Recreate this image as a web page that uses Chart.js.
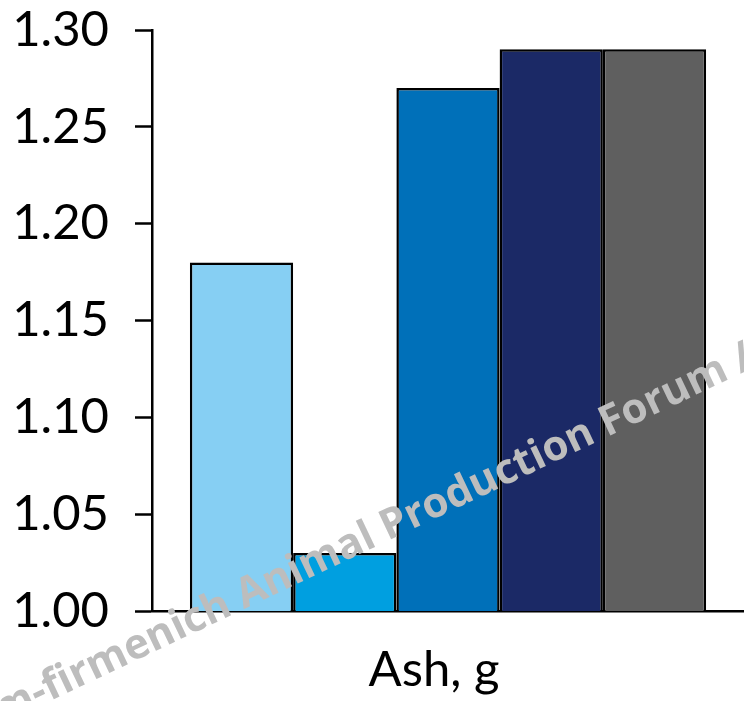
<!DOCTYPE html>
<html>
<head>
<meta charset="utf-8">
<script src="https://cdn.jsdelivr.net/npm/chart.js@4/dist/chart.umd.min.js"></script>
<style>
  html, body { margin: 0; padding: 0; background: #ffffff; }
  #wrap { width: 744px; height: 701px; position: relative; }
</style>
</head>
<body>
<div id="wrap"><canvas id="c"></canvas></div>
<script>
// Category shown under the bars
const categories = ['Ash, g'];
// One bar per group, values in grams
const seriesNames = ['Group 1', 'Group 2', 'Group 3', 'Group 4', 'Group 5'];
const seriesValues = [1.18, 1.03, 1.27, 1.29, 1.29];
const seriesColors = ['#86CFF3', '#009FE0', '#0070B9', '#1B2966', '#5F5F5F'];
// Value axis range and step
const yMin = 1.00;
const yMax = 1.30;
const yStep = 0.05;
const watermarkLead = 'dsm-';
const watermarkBody = 'firmenich Animal Production Forum /';

const FONT = 'Lato, "DejaVu Sans", sans-serif';

// Rotated grey caption drawn on top of the plot.
// Its baseline runs from the start of "firmenich" to the start of "Forum".
const watermark = {
  id: 'watermark',
  afterDraw(chart) {
    const ctx = chart.ctx;
    const start = { x: 50, y: 701 };
    const forumStart = { x: 607, y: 437 };
    const dx = forumStart.x - start.x;
    const dy = start.y - forumStart.y;
    const span = Math.hypot(dx, dy);
    const angle = Math.atan2(dy, dx);
    const prefix = watermarkBody.slice(0, watermarkBody.indexOf('Forum'));
    ctx.save();
    ctx.font = 'bold 40px "Open Sans", sans-serif';
    const size = 40 * span / ctx.measureText(prefix).width;
    ctx.font = 'bold ' + size.toFixed(2) + 'px "Open Sans", sans-serif';
    ctx.translate(start.x, start.y);
    ctx.rotate(-angle);
    ctx.fillStyle = '#BDBDBD';
    ctx.textBaseline = 'alphabetic';
    ctx.textAlign = 'right';
    ctx.fillText(watermarkLead, 0, 0);
    ctx.textAlign = 'left';
    ctx.fillText(watermarkBody, 0, 0);
    ctx.restore();
  }
};

const datasets = seriesValues.map((v, i) => ({
  label: seriesNames[i],
  data: [v],
  backgroundColor: seriesColors[i],
  borderColor: '#000000',
  borderWidth: 2.5,
  borderSkipped: 'bottom',
  categoryPercentage: 0.872,
  barPercentage: 1.0
}));

new Chart(document.getElementById('c'), {
  type: 'bar',
  data: { labels: categories, datasets },
  options: {
    responsive: true,
    maintainAspectRatio: false,
    animation: false,
    layout: { padding: { top: 30, right: 0, bottom: 0, left: 0 } },
    plugins: {
      legend: { display: false },
      tooltip: { enabled: false }
    },
    scales: {
      x: {
        grid: { display: false, drawTicks: false },
        border: { display: true, color: '#000000', width: 2.5 },
        ticks: {
          color: '#000000',
          font: { family: FONT, size: 49 },
          padding: 30,
          labelOffset: -14
        },
        afterFit(scale) { scale.height = 90; scale.paddingLeft = 0; scale.paddingRight = 0; }
      },
      y: {
        min: yMin,
        max: yMax,
        grid: {
          display: true,
          drawOnChartArea: false,
          drawTicks: true,
          tickLength: 17,
          tickWidth: 2.5,
          tickColor: '#000000'
        },
        border: { display: true, color: '#000000', width: 2.5 },
        ticks: {
          stepSize: yStep,
          color: '#000000',
          font: { family: FONT, size: 49 },
          padding: 26,
          callback: (v) => Number(v).toFixed(2)
        },
        afterFit(scale) { scale.width = 152; scale.paddingTop = 0; scale.paddingBottom = 0; }
      }
    }
  },
  plugins: [watermark]
});
</script>
</body>
</html>
